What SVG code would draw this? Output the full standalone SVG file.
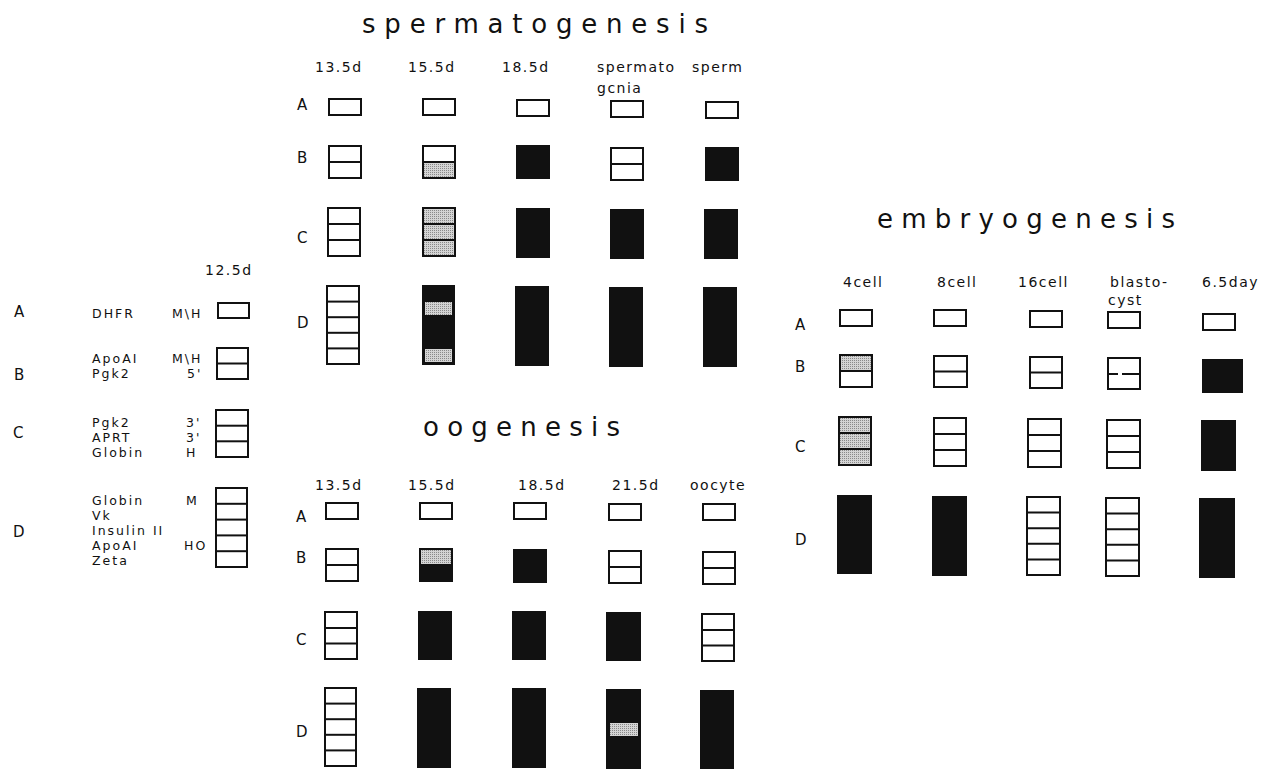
<svg xmlns="http://www.w3.org/2000/svg" width="1266" height="769" viewBox="0 0 1266 769">
<defs>
<pattern id="stip" width="2" height="2" patternUnits="userSpaceOnUse">
<rect width="2" height="2" fill="#d4d4d4"/>
<rect width="1" height="1" fill="#8a8a8a"/>
</pattern>
<style>
text{font-family:"DejaVu Sans","Liberation Sans",sans-serif;fill:#111}
.t{font-size:26px}
.h{font-size:14px;letter-spacing:1.5px}
.r{font-size:15px}
.l{font-size:12.5px;letter-spacing:2px}
.o{fill:#fff;stroke:#111;stroke-width:2}
.k{fill:#111;stroke:#111;stroke-width:2}
.n{fill:none;stroke:#111;stroke-width:2}
.g{fill:url(#stip);stroke:none}
.d{stroke:#111;stroke-width:2}
</style>
</defs>
<rect width="1266" height="769" fill="#fff"/>

<g id="legend">
<text class="h" x="205" y="275">12.5d</text>
<text class="r" x="14" y="317">A</text>
<text class="r" x="14" y="380">B</text>
<text class="r" x="13" y="438">C</text>
<text class="r" x="13" y="537">D</text>
<text class="l" x="92" y="318">DHFR</text>
<text class="l" x="172" y="318">M\H</text>
<text class="l" x="92" y="363">ApoAI</text>
<text class="l" x="92" y="378">Pgk2</text>
<text class="l" x="172" y="363">M\H</text>
<text class="l" x="187" y="378">5'</text>
<text class="l" x="92" y="427">Pgk2</text>
<text class="l" x="92" y="442">APRT</text>
<text class="l" x="92" y="457">Globin</text>
<text class="l" x="186" y="427">3'</text>
<text class="l" x="186" y="442">3'</text>
<text class="l" x="186" y="457">H</text>
<text class="l" x="92" y="505">Globin</text>
<text class="l" x="92" y="520">Vk</text>
<text class="l" x="92" y="535">Insulin II</text>
<text class="l" x="92" y="550">ApoAI</text>
<text class="l" x="92" y="565">Zeta</text>
<text class="l" x="186" y="505">M</text>
<text class="l" x="184" y="550">HO</text>
<g id="leg-A"><rect class="o" x="218" y="303" width="31" height="15"/></g>
<g id="leg-B"><rect class="o" x="217" y="348" width="31" height="31"/><line class="d" x1="217" y1="363.5" x2="248" y2="363.5"/></g>
<g id="leg-C"><rect class="o" x="216" y="410" width="32" height="47"/><line class="d" x1="216" y1="425.7" x2="248" y2="425.7"/><line class="d" x1="216" y1="441.3" x2="248" y2="441.3"/></g>
<g id="leg-D"><rect class="o" x="216" y="488" width="31" height="79"/><line class="d" x1="216" y1="503.8" x2="247" y2="503.8"/><line class="d" x1="216" y1="519.6" x2="247" y2="519.6"/><line class="d" x1="216" y1="535.4" x2="247" y2="535.4"/><line class="d" x1="216" y1="551.2" x2="247" y2="551.2"/></g>
</g>

<g id="spermatogenesis">
<text class="t" x="362" y="33" textLength="346" lengthAdjust="spacing">spermatogenesis</text>
<text class="h" x="315" y="72">13.5d</text>
<text class="h" x="408" y="72">15.5d</text>
<text class="h" x="502" y="72">18.5d</text>
<text class="h" x="597" y="72">spermato</text>
<text class="h" x="597" y="93">gcnia</text>
<text class="h" x="692" y="72">sperm</text>
<text class="r" x="297" y="110">A</text>
<text class="r" x="297" y="163">B</text>
<text class="r" x="297" y="243">C</text>
<text class="r" x="297" y="328">D</text>
<g id="s-A1"><rect class="o" x="329" y="99" width="32" height="16"/></g>
<g id="s-A2"><rect class="o" x="423" y="99" width="32" height="16"/></g>
<g id="s-A3"><rect class="o" x="517" y="100" width="32" height="16"/></g>
<g id="s-A4"><rect class="o" x="611" y="101" width="32" height="16"/></g>
<g id="s-A5"><rect class="o" x="706" y="102" width="32" height="16"/></g>
<g id="s-B1"><rect class="o" x="329" y="146" width="32" height="32"/><line class="d" x1="329" y1="162" x2="361" y2="162"/></g>
<g id="s-B2"><rect class="o" x="423" y="146" width="32" height="32"/><rect class="g" x="423" y="162" width="32" height="16"/><rect class="n" x="423" y="146" width="32" height="32"/><line class="d" x1="423" y1="162" x2="455" y2="162"/></g>
<g id="s-B3"><rect class="k" x="517" y="146" width="32" height="32"/></g>
<g id="s-B4"><rect class="o" x="611" y="148" width="32" height="32"/><line class="d" x1="611" y1="164" x2="643" y2="164"/></g>
<g id="s-B5"><rect class="k" x="706" y="148" width="32" height="32"/></g>
<g id="s-C1"><rect class="o" x="328" y="208" width="32" height="48"/><line class="d" x1="328" y1="224" x2="360" y2="224"/><line class="d" x1="328" y1="240" x2="360" y2="240"/></g>
<g id="s-C2"><rect class="g" x="423" y="208" width="32" height="48"/><rect class="n" x="423" y="208" width="32" height="48"/><line class="d" x1="423" y1="224" x2="455" y2="224"/><line class="d" x1="423" y1="240" x2="455" y2="240"/></g>
<g id="s-C3"><rect class="k" x="517" y="209" width="32" height="48"/></g>
<g id="s-C4"><rect class="k" x="611" y="210" width="32" height="48"/></g>
<g id="s-C5"><rect class="k" x="705" y="210" width="32" height="48"/></g>
<g id="s-D1"><rect class="o" x="327" y="286" width="32" height="78"/><line class="d" x1="327" y1="301.6" x2="359" y2="301.6"/><line class="d" x1="327" y1="317.2" x2="359" y2="317.2"/><line class="d" x1="327" y1="332.8" x2="359" y2="332.8"/><line class="d" x1="327" y1="348.4" x2="359" y2="348.4"/></g>
<g id="s-D2"><rect class="k" x="423" y="286" width="31" height="78"/><rect class="g" x="425" y="302" width="27" height="13"/><rect class="g" x="425" y="349" width="27" height="13"/></g>
<g id="s-D3"><rect class="k" x="516" y="287" width="32" height="78"/></g>
<g id="s-D4"><rect class="k" x="610" y="288" width="32" height="78"/></g>
<g id="s-D5"><rect class="k" x="704" y="288" width="32" height="78"/></g>
</g>

<g id="oogenesis">
<text class="t" x="423" y="436" textLength="197" lengthAdjust="spacing">oogenesis</text>
<text class="h" x="315" y="490">13.5d</text>
<text class="h" x="408" y="490">15.5d</text>
<text class="h" x="518" y="490">18.5d</text>
<text class="h" x="612" y="490">21.5d</text>
<text class="h" x="690" y="490">oocyte</text>
<text class="r" x="296" y="522">A</text>
<text class="r" x="296" y="563">B</text>
<text class="r" x="296" y="645">C</text>
<text class="r" x="296" y="737">D</text>
<g id="o-A1"><rect class="o" x="326" y="503" width="32" height="16"/></g>
<g id="o-A2"><rect class="o" x="420" y="503" width="32" height="16"/></g>
<g id="o-A3"><rect class="o" x="514" y="503" width="32" height="16"/></g>
<g id="o-A4"><rect class="o" x="609" y="504" width="32" height="16"/></g>
<g id="o-A5"><rect class="o" x="703" y="504" width="32" height="16"/></g>
<g id="o-B1"><rect class="o" x="326" y="549" width="32" height="32"/><line class="d" x1="326" y1="565" x2="358" y2="565"/></g>
<g id="o-B2"><rect class="g" x="420" y="549" width="32" height="16"/><rect class="k" x="420" y="565" width="32" height="16"/><rect class="n" x="420" y="549" width="32" height="32"/></g>
<g id="o-B3"><rect class="k" x="514" y="550" width="32" height="32"/></g>
<g id="o-B4"><rect class="o" x="609" y="551" width="32" height="32"/><line class="d" x1="609" y1="567" x2="641" y2="567"/></g>
<g id="o-B5"><rect class="o" x="703" y="552" width="32" height="32"/><line class="d" x1="703" y1="568" x2="735" y2="568"/></g>
<g id="o-C1"><rect class="o" x="325" y="612" width="32" height="47"/><line class="d" x1="325" y1="628" x2="357" y2="628"/><line class="d" x1="325" y1="643.5" x2="357" y2="643.5"/></g>
<g id="o-C2"><rect class="k" x="419" y="612" width="32" height="47"/></g>
<g id="o-C3"><rect class="k" x="513" y="612" width="32" height="47"/></g>
<g id="o-C4"><rect class="k" x="607" y="613" width="33" height="47"/></g>
<g id="o-C5"><rect class="o" x="702" y="614" width="32" height="47"/><line class="d" x1="702" y1="630" x2="734" y2="630"/><line class="d" x1="702" y1="645.5" x2="734" y2="645.5"/></g>
<g id="o-D1"><rect class="o" x="325" y="688" width="31" height="78"/><line class="d" x1="325" y1="703.6" x2="356" y2="703.6"/><line class="d" x1="325" y1="719.2" x2="356" y2="719.2"/><line class="d" x1="325" y1="734.8" x2="356" y2="734.8"/><line class="d" x1="325" y1="750.4" x2="356" y2="750.4"/></g>
<g id="o-D2"><rect class="k" x="418" y="689" width="32" height="78"/></g>
<g id="o-D3"><rect class="k" x="513" y="689" width="32" height="78"/></g>
<g id="o-D4"><rect class="k" x="607" y="690" width="33" height="78"/><rect class="g" x="610" y="723" width="28" height="13"/></g>
<g id="o-D5"><rect class="k" x="701" y="691" width="32" height="78"/></g>
</g>

<g id="embryogenesis">
<text class="t" x="877" y="228" textLength="298" lengthAdjust="spacing">embryogenesis</text>
<text class="h" x="843" y="287">4cell</text>
<text class="h" x="937" y="287">8cell</text>
<text class="h" x="1018" y="287">16cell</text>
<text class="h" x="1110" y="287">blasto-</text>
<text class="h" x="1108" y="305">cyst</text>
<text class="h" x="1202" y="287">6.5day</text>
<text class="r" x="795" y="330">A</text>
<text class="r" x="795" y="372">B</text>
<text class="r" x="795" y="452">C</text>
<text class="r" x="795" y="545">D</text>
<g id="e-A1"><rect class="o" x="840" y="310" width="32" height="16"/></g>
<g id="e-A2"><rect class="o" x="934" y="310" width="32" height="16"/></g>
<g id="e-A3"><rect class="o" x="1030" y="311" width="32" height="16"/></g>
<g id="e-A4"><rect class="o" x="1108" y="312" width="32" height="16"/></g>
<g id="e-A5"><rect class="o" x="1203" y="314" width="32" height="16"/></g>
<g id="e-B1"><rect class="o" x="840" y="355" width="32" height="32"/><rect class="g" x="840" y="355" width="32" height="16"/><rect class="n" x="840" y="355" width="32" height="32"/><line class="d" x1="840" y1="371" x2="872" y2="371"/></g>
<g id="e-B2"><rect class="o" x="934" y="356" width="33" height="31"/><line class="d" x1="934" y1="371.5" x2="967" y2="371.5"/></g>
<g id="e-B3"><rect class="o" x="1030" y="357" width="32" height="31"/><line class="d" x1="1030" y1="372.5" x2="1062" y2="372.5"/></g>
<g id="e-B4"><rect class="o" x="1108" y="358" width="32" height="31"/><line class="d" x1="1108" y1="374" x2="1118" y2="374"/><line class="d" x1="1122" y1="374" x2="1140" y2="374"/></g>
<g id="e-B5"><rect class="k" x="1203" y="360" width="39" height="32"/></g>
<g id="e-C1"><rect class="g" x="839" y="417" width="32" height="48"/><rect class="n" x="839" y="417" width="32" height="48"/><line class="d" x1="839" y1="433" x2="871" y2="433"/><line class="d" x1="839" y1="449" x2="871" y2="449"/></g>
<g id="e-C2"><rect class="o" x="934" y="418" width="32" height="48"/><line class="d" x1="934" y1="434" x2="966" y2="434"/><line class="d" x1="934" y1="450" x2="966" y2="450"/></g>
<g id="e-C3"><rect class="o" x="1028" y="419" width="33" height="48"/><line class="d" x1="1028" y1="435" x2="1061" y2="435"/><line class="d" x1="1028" y1="451" x2="1061" y2="451"/></g>
<g id="e-C4"><rect class="o" x="1107" y="420" width="33" height="48"/><line class="d" x1="1107" y1="436" x2="1140" y2="436"/><line class="d" x1="1107" y1="452" x2="1140" y2="452"/></g>
<g id="e-C5"><rect class="k" x="1202" y="421" width="33" height="49"/></g>
<g id="e-D1"><rect class="k" x="838" y="496" width="33" height="77"/></g>
<g id="e-D2"><rect class="k" x="933" y="497" width="33" height="78"/></g>
<g id="e-D3"><rect class="o" x="1027" y="497" width="33" height="78"/><line class="d" x1="1027" y1="512.6" x2="1060" y2="512.6"/><line class="d" x1="1027" y1="528.2" x2="1060" y2="528.2"/><line class="d" x1="1027" y1="543.8" x2="1060" y2="543.8"/><line class="d" x1="1027" y1="559.4" x2="1060" y2="559.4"/></g>
<g id="e-D4"><rect class="o" x="1106" y="498" width="33" height="78"/><line class="d" x1="1106" y1="513.6" x2="1139" y2="513.6"/><line class="d" x1="1106" y1="529.2" x2="1139" y2="529.2"/><line class="d" x1="1106" y1="544.8" x2="1139" y2="544.8"/><line class="d" x1="1106" y1="560.4" x2="1139" y2="560.4"/></g>
<g id="e-D5"><rect class="k" x="1200" y="499" width="34" height="78"/></g>
</g>
</svg>
